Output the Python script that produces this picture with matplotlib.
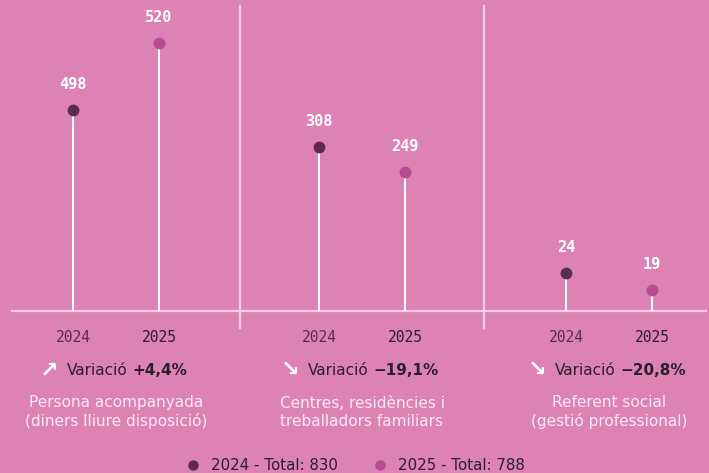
import matplotlib.pyplot as plt
from matplotlib.offsetbox import TextArea, HPacker, AnnotationBbox

# data
years = ["2024", "2025"]
categories = ["Persona acompanyada\n(diners lliure disposició)",
              "Centres, residències i\ntreballadors familiars",
              "Referent social\n(gestió professional)"]
values_2024 = [498, 308, 24]
values_2025 = [520, 249, 19]
variations = ["+4,4%", "\u221219,1%", "\u221220,8%"]
arrows = ["\u2197", "\u2198", "\u2198"]
totals = [830, 788]

BG = "#DC82B5"
C24 = "#5E2B50"
C25 = "#B94B91"
DARK = "#2A1E2A"
LIGHT = "#FBEAF3"

W, H = 709, 473
fig = plt.figure(figsize=(W / 100, H / 100), dpi=100, facecolor=BG)

# background axes in pixel coordinates for layout elements
bg = fig.add_axes([0, 0, 1, 1])
bg.set_xlim(0, W)
bg.set_ylim(H, 0)
bg.axis("off")
bg.set_facecolor(BG)

base_y = 311
centers = [116, 362, 609]
half_gap = 43
# per-group vertical scale (bottom, top) in data units
ylims = [(432, 534), (-79, 655), (12.8, 104.3)]

bg.plot([12, 706], [base_y, base_y], color="#F6CDE2", lw=1.6, zorder=1)
for sx in [240, 484]:
    bg.plot([sx, sx], [6, 328], color="#F8DDEB", lw=1.6, alpha=0.85, zorder=1)

for i, c in enumerate(centers):
    ax = fig.add_axes([(c - 2 * half_gap) / W, 1 - base_y / H,
                       4 * half_gap / W, base_y / H])
    ax.set_xlim(-0.5, 1.5)
    ax.set_ylim(*ylims[i])
    ax.axis("off")
    ax.patch.set_alpha(0)
    for j, (v, col) in enumerate([(values_2024[i], C24), (values_2025[i], C25)]):
        ax.plot([j, j], [ylims[i][0], v], color="white", lw=1.5, zorder=2)
        ax.plot(j, v, "o", ms=7.5, color=col, zorder=3)
        ax.annotate(str(v), (j, v), xytext=(0, 13), textcoords="offset points",
                    ha="center", va="bottom", color="white", fontsize=11,
                    fontweight="bold", family="DejaVu Sans Mono")

    # year labels
    bg.text(c - half_gap, 337, years[0], ha="center", va="center",
            family="DejaVu Sans Mono", fontsize=10.5, color=C24)
    bg.text(c + half_gap, 337, years[1], ha="center", va="center",
            family="DejaVu Sans Mono", fontsize=10.5, color=DARK)

    # variation line
    label = HPacker(children=[
        TextArea("Variació", textprops=dict(color=DARK, fontsize=11, fontweight="medium")),
        TextArea(variations[i], textprops=dict(color=DARK, fontsize=11, fontweight="bold"))],
        align="baseline", pad=0, sep=3.5)
    arrow = TextArea(arrows[i], textprops=dict(color="white", fontsize=16, fontweight="bold"))
    box = HPacker(children=[arrow, label], align="center", pad=0, sep=6)
    ab = AnnotationBbox(box, (c - 2, 370), xycoords="data", box_alignment=(0.5, 0.5),
                        frameon=False)
    bg.add_artist(ab)

    bg.text(c, 412, categories[i], ha="center", va="center", color=LIGHT,
            fontsize=11, linespacing=1.25)

# legend
for x, col, yr, tot in [(193, C24, years[0], totals[0]), (380, C25, years[1], totals[1])]:
    bg.plot(x, 465, "o", ms=6.5, color=col)
    bg.text(x + 18, 465, f"{yr} - Total: {tot}", ha="left", va="center",
            color=DARK, fontsize=10.8)

fig.savefig("out.png", dpi=100, facecolor=BG)
